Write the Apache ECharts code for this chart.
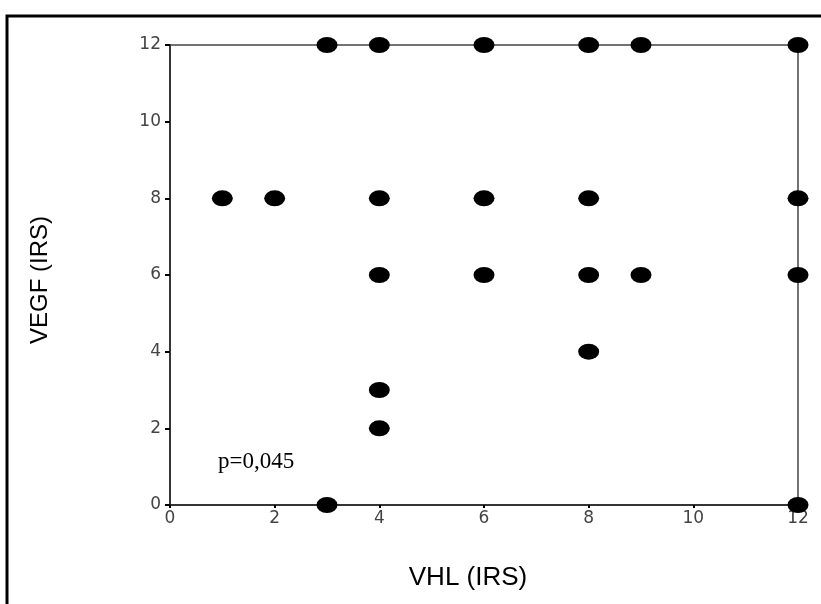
<!DOCTYPE html>
<html><head><meta charset="utf-8">
<script src="https://cdn.jsdelivr.net/npm/echarts@6/dist/echarts.min.js"></script>
<style>html,body{margin:0;padding:0;background:#fff}#c{width:821px;height:604px}</style>
</head><body><div id="c"></div>
<script>
const vhl  = [3,4,6,8,9,12, 1,2,4,6,8,12, 4,6,8,9,12, 8, 4, 4, 3,12];
const vegf = [12,12,12,12,12,12, 8,8,8,8,8,8, 6,6,6,6,6, 4, 3, 2, 0,0];
const xTicks = [0,2,4,6,8,10,12];
const yTicks = [0,2,4,6,8,10,12];
const xTitle = 'VHL (IRS)';
const yTitle = 'VEGF (IRS)';
const note = 'p=0,045';

const chart = echarts.init(document.getElementById('c'));
const axisLbl = {color:'#444', fontFamily:'DejaVu Sans', fontSize:17};
chart.setOption({
  animation:false,
  grid:{left:170,right:23,top:45,bottom:99,show:true,borderColor:'#444',borderWidth:1.5,backgroundColor:'transparent'},
  xAxis:{type:'value',min:xTicks[0],max:xTicks[xTicks.length-1],interval:2,
    axisLine:{show:true,lineStyle:{color:'#222',width:1.5}},
    axisTick:{show:true,length:3,lineStyle:{color:'#000',width:2}},
    splitLine:{show:false},
    axisLabel:{...axisLbl,margin:5}},
  yAxis:{type:'value',min:yTicks[0],max:yTicks[yTicks.length-1],interval:2,
    axisLine:{show:true,lineStyle:{color:'#222',width:1.5}},
    axisTick:{show:true,length:5,lineStyle:{color:'#000',width:2}},
    splitLine:{show:false},
    axisLabel:{...axisLbl,margin:9}},
  graphic:[
    {type:'polyline',shape:{points:[[7,604],[7,16],[821,16]]},style:{stroke:'#000',lineWidth:3,fill:null}},
    {type:'text',x:218,y:462,style:{text:note,font:'23px "Liberation Serif"',fill:'#000',align:'left',verticalAlign:'middle'}},
    {type:'text',x:468,y:578,style:{text:xTitle,font:'26px "Liberation Sans"',fill:'#000',align:'center',verticalAlign:'middle'}},
    {type:'text',x:40,y:280,rotation:Math.PI/2,style:{text:yTitle,font:'24px "Liberation Sans"',fill:'#000',align:'center',verticalAlign:'middle'}}
  ],
  series:[{type:'scatter',data:vhl.map((x,i)=>[x,vegf[i]]),symbol:'circle',symbolSize:[21,16],
    itemStyle:{color:'#000',opacity:1},clip:false}]
});
</script></body></html>
